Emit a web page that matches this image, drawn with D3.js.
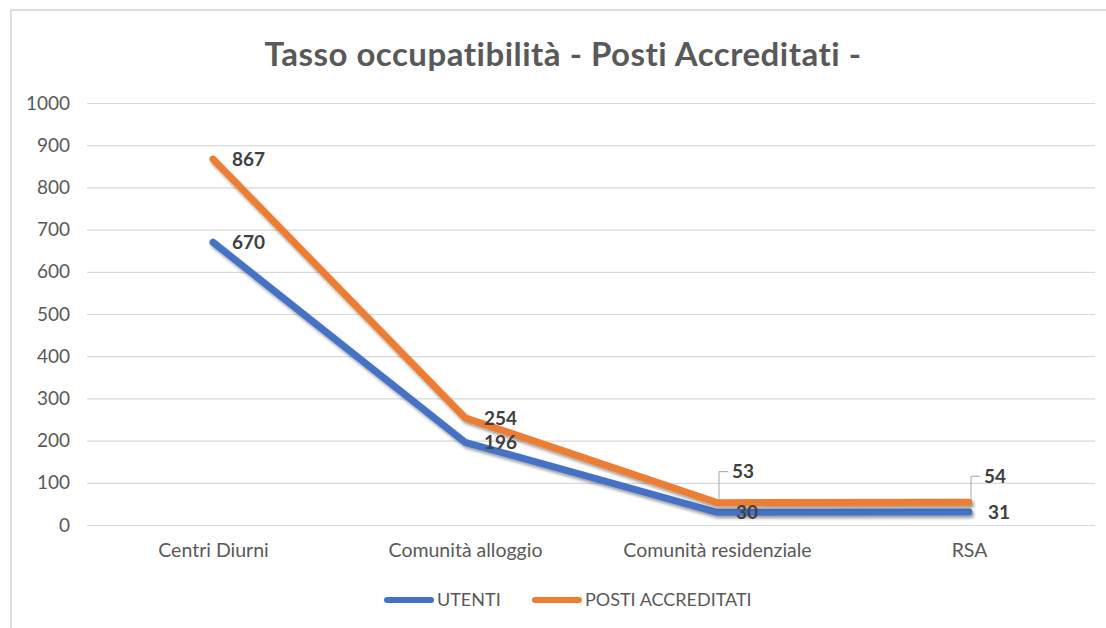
<!DOCTYPE html>
<html>
<head>
<meta charset="utf-8">
<script src="https://cdn.jsdelivr.net/npm/d3@7"></script>
<style>
  html, body { margin: 0; padding: 0; background: #fff; }
  svg { display: block; font-family: Lato, "Open Sans", sans-serif; }
</style>
</head>
<body>
<div id="chart"></div>
<script>
// chart data
const categories = ['Centri Diurni', 'Comunità alloggio', 'Comunità residenziale', 'RSA'];
const utenti = [670, 196, 30, 31];
const postiAccreditati = [867, 254, 53, 54];
const yTicks = [0, 100, 200, 300, 400, 500, 600, 700, 800, 900, 1000];

const series = [
  {name: 'UTENTI', values: utenti, color: '#4472c4', lift: [0, 0, 0, 0]},
  {name: 'POSTI ACCREDITATI', values: postiAccreditati, color: '#ed7d31', lift: [0, 0, 31, 26]}
];

const width = 1106;
const height = 628;
const margin = {top: 103, bottom: 103, left: 87, right: 11};

const svg = d3.select('#chart')
  .append('svg')
  .attr('width', width)
  .attr('height', height);

// soft shadow under the lines, like the office chart
const defs = svg.append('defs');
defs.append('filter')
  .attr('id', 'shadow')
  .attr('x', '-5%').attr('y', '-5%')
  .attr('width', '110%').attr('height', '120%')
  .append('feDropShadow')
  .attr('dx', 1.5)
  .attr('dy', 2.5)
  .attr('stdDeviation', 1.8)
  .attr('flood-color', '#000')
  .attr('flood-opacity', 0.4);

// outer frame
svg.append('path')
  .attr('d', 'M11,' + height + 'V10H' + width)
  .attr('fill', 'none')
  .attr('stroke', '#d4d4d4')
  .attr('stroke-width', 1.5);

const x = d3.scalePoint()
  .domain(categories)
  .range([margin.left, width - margin.right])
  .padding(0.5);

const y = d3.scaleLinear()
  .domain([0, 1000])
  .range([height - margin.bottom, margin.top]);

// title
svg.append('text')
  .attr('x', 563)
  .attr('y', 66)
  .attr('text-anchor', 'middle')
  .attr('font-size', 33)
  .attr('letter-spacing', 0.5)
  .attr('font-weight', 700)
  .attr('fill', '#595959')
  .text('Tasso occupatibilità - Posti Accreditati -');

// y axis with gridlines
const yAxis = d3.axisLeft(y)
  .tickValues(yTicks)
  .tickSize(-(width - margin.right - margin.left))
  .tickPadding(17)
  .tickFormat(d3.format('d'));

svg.append('g')
  .attr('transform', 'translate(' + margin.left + ',0)')
  .call(yAxis)
  .call((g) => g.select('.domain').remove())
  .call((g) => g.selectAll('.tick line')
    .attr('stroke', '#d9d9d9')
    .attr('stroke-width', 1.2))
  .call((g) => g.selectAll('.tick text')
    .attr('fill', '#595959')
    .attr('font-size', 19)
    .attr('font-family', 'Lato, "Open Sans", sans-serif'));

// x axis labels
const xAxis = d3.axisBottom(x).tickSize(0).tickPadding(18);
svg.append('g')
  .attr('transform', 'translate(0,' + (height - margin.bottom) + ')')
  .call(xAxis)
  .call((g) => g.select('.domain').remove())
  .call((g) => g.selectAll('.tick text')
    .attr('fill', '#595959')
    .attr('font-size', 19.5)
    .attr('font-family', 'Lato, "Open Sans", sans-serif'));

const line = d3.line()
  .x((d, i) => x(categories[i]))
  .y((d) => y(d));

// lines, orange on top
series.forEach((s) => {
  svg.append('path')
    .datum(s.values)
    .attr('d', line)
    .attr('fill', 'none')
    .attr('stroke', s.color)
    .attr('stroke-width', 7)
    .attr('stroke-linecap', 'round')
    .attr('stroke-linejoin', 'round')
    .attr('filter', 'url(#shadow)');
});

// data labels
series.forEach((s) => {
  s.values.forEach((v, i) => {
    const px = x(categories[i]);
    const py = y(v);
    const lift = s.lift[i];
    if (lift > 0) {
      // leader line
      svg.append('path')
        .attr('d', 'M' + (px + 2) + ',' + (py - 3) + 'V' + (py - lift) + 'H' + (px + 11))
        .attr('fill', 'none')
        .attr('stroke', '#a6a6a6')
        .attr('stroke-width', 1);
    }
    svg.append('text')
      .attr('x', px + (lift > 0 ? 15 : 19))
      .attr('y', py - lift)
      .attr('dy', '0.36em')
      .attr('font-size', 19)
      .attr('font-weight', 700)
      .attr('fill', '#404040')
      .text(v);
  });
});

// legend
const legend = svg.append('g').attr('transform', 'translate(0,600)');
const legendX = [385, 533];
series.forEach((s, i) => {
  legend.append('line')
    .attr('x1', legendX[i] + 2)
    .attr('x2', legendX[i] + 46)
    .attr('y1', 0)
    .attr('y2', 0)
    .attr('stroke', s.color)
    .attr('stroke-width', 6)
    .attr('stroke-linecap', 'round');
  legend.append('text')
    .attr('x', legendX[i] + 52)
    .attr('y', 0)
    .attr('dy', '0.36em')
    .attr('font-size', 18)
    .attr('fill', '#595959')
    .text(s.name);
});
</script>
</body>
</html>
